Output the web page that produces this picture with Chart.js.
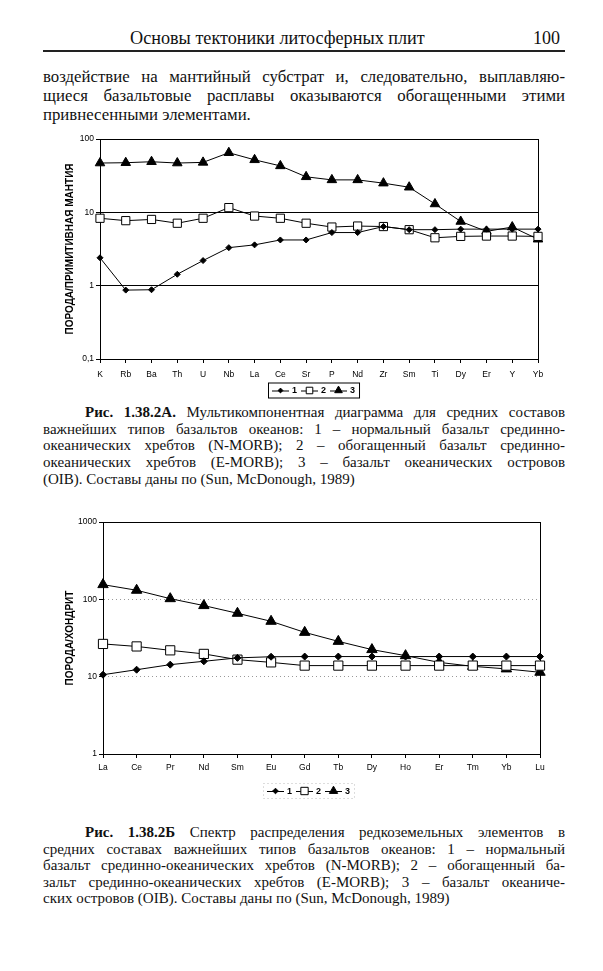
<!DOCTYPE html>
<html lang="ru">
<head>
<meta charset="utf-8">
<title>Основы тектоники литосферных плит</title>
<script src="https://cdn.jsdelivr.net/npm/chart.js@4/dist/chart.umd.min.js"></script>
<style>
  body { margin: 0; width: 603px; height: 971px; background: #fff; position: relative; overflow: hidden;
         font-family: "Liberation Serif", "Times New Roman", serif; color: #111; }
  .abs { position: absolute; }
  .line { white-space: nowrap; }
  .just { text-align: justify; text-align-last: justify; white-space: normal; }
  canvas { position: absolute; }
</style>
</head>
<body>
<div class="abs" style="left:130px;top:28px;font-size:18.2px;">Основы тектоники литосферных плит</div>
<div class="abs" style="left:533px;top:28px;font-size:18px;">100</div>
<div class="abs" style="left:43px;top:50px;width:522px;height:1.5px;background:#222;"></div>

<div class="abs" style="left:43px;top:67px;width:522px;font-size:16.8px;line-height:19px;">
  <div class="just">воздействие на мантийный субстрат и, следовательно, выплавляю-</div>
  <div class="just">щиеся базальтовые расплавы оказываются обогащенными этими</div>
  <div class="line">привнесенными элементами.</div>
</div>

<canvas id="chartA" width="530" height="272" style="left:40px;top:130px;"></canvas>

<div class="abs" style="left:43px;top:404px;width:522px;font-size:15px;line-height:16.7px;">
  <div class="just" style="padding-left:42px;"><b>Рис. 1.38.2А.</b> Мультикомпонентная диаграмма для средних составов</div>
  <div class="just">важнейших типов базальтов океанов: 1 – нормальный базальт срединно-</div>
  <div class="just">океанических хребтов (N-MORB); 2 – обогащенный базальт срединно-</div>
  <div class="just">океанических хребтов (E-MORB); 3 – базальт океанических островов</div>
  <div class="line">(OIB). Составы даны по (Sun, McDonough, 1989)</div>
</div>

<canvas id="chartB" width="530" height="292" style="left:40px;top:508px;"></canvas>

<div class="abs" style="left:43px;top:824px;width:522px;font-size:15px;line-height:16.6px;">
  <div class="just" style="padding-left:42px;"><b>Рис. 1.38.2Б</b> Спектр распределения редкоземельных элементов в</div>
  <div class="just">средних составах важнейших типов базальтов океанов: 1 – нормальный</div>
  <div class="just">базальт срединно-океанических хребтов (N-MORB); 2 – обогащенный ба-</div>
  <div class="just">зальт срединно-океанических хребтов (E-MORB); 3 – базальт океаниче-</div>
  <div class="line">ских островов (OIB). Составы даны по (Sun, McDonough, 1989)</div>
</div>

<script>
// Рис. 1.38.2А — нормировано на примитивную мантию
const elementsA = ['K', 'Rb', 'Ba', 'Th', 'U', 'Nb', 'La', 'Ce', 'Sr', 'P', 'Nd', 'Zr', 'Sm', 'Ti', 'Dy', 'Er', 'Y', 'Yb'];
const nmorbA = [2.4, 0.87, 0.88, 1.43, 2.2, 3.3, 3.6, 4.2, 4.2, 5.3, 5.3, 6.4, 5.8, 5.8, 5.9, 5.9, 5.9, 5.9];
const emorbA = [8.3, 7.7, 8.0, 7.1, 8.3, 11.6, 8.9, 8.3, 7.1, 6.3, 6.5, 6.4, 5.8, 4.5, 4.7, 4.75, 4.75, 4.7];
const oibA = [47, 47.5, 49, 47, 48, 65, 52, 43, 30.5, 27.7, 27.7, 25, 22, 13, 7.5, 5.5, 6.3, 4.3];
const yTicksA = [0.1, 1, 10, 100];

// Рис. 1.38.2Б — нормировано на хондрит
const elementsB = ['La', 'Ce', 'Pr', 'Nd', 'Sm', 'Eu', 'Gd', 'Tb', 'Dy', 'Ho', 'Er', 'Tm', 'Yb', 'Lu'];
const nmorbB = [10.6, 12.3, 14.3, 15.8, 17.5, 18.1, 18.2, 18.2, 18.2, 18.2, 18.2, 18.2, 18.2, 18.2];
const emorbB = [26.5, 24.6, 21.9, 19.7, 16.6, 15.3, 13.9, 13.9, 13.9, 13.9, 13.9, 13.9, 13.9, 13.9];
const oibB = [155, 131, 102, 83, 66, 52, 37.4, 28.6, 22.4, 18.7, 15.3, 13.6, 12.6, 11.4];
const yTicksB = [1, 10, 100, 1000];

const seriesNames = ['1', '2', '3'];

const tickFont = { family: 'Liberation Sans, Arial, sans-serif', size: 8.5 };
const titleFont = { family: 'Liberation Sans, Arial, sans-serif', size: 10, weight: 'bold' };

// рамка вокруг области построения
const framePlugin = {
  id: 'frame',
  beforeDatasetsDraw(chart) {
    const { ctx, chartArea: a } = chart;
    ctx.save();
    ctx.strokeStyle = '#000';
    ctx.lineWidth = 1;
    ctx.strokeRect(Math.round(a.left) + 0.5, Math.round(a.top) + 0.5, Math.round(a.right - a.left), Math.round(a.bottom - a.top));
    ctx.restore();
  }
};

// легенда в стиле Excel: линия с маркером и номер серии
const lineLegend = {
  id: 'lineLegend',
  afterDraw(chart, args, o) {
    const { ctx } = chart;
    ctx.save();
    ctx.font = 'bold 9px Liberation Sans, Arial, sans-serif';
    ctx.textBaseline = 'middle';
    let x = o.x + 4;
    const y = o.y;
    chart.data.datasets.forEach(ds => {
      ctx.strokeStyle = '#000';
      ctx.lineWidth = 1;
      ctx.beginPath();
      ctx.moveTo(x, y + 0.5);
      ctx.lineTo(x + 17, y + 0.5);
      ctx.stroke();
      ctx.fillStyle = ds.pointBackgroundColor;
      ctx.strokeStyle = '#000';
      Chart.helpers.drawPoint(ctx, { pointStyle: ds.pointStyle, radius: ds.pointRadius * 0.8, borderWidth: 1, rotation: 0 }, x + 8.5, y);
      x += 20;
      ctx.fillStyle = '#000';
      ctx.fillText(ds.label, x, y + 0.5);
      x += ctx.measureText(ds.label).width + 4;
    });
    ctx.strokeStyle = o.boxColor;
    ctx.setLineDash(o.boxDash);
    ctx.strokeRect(o.x + 0.5, y - 7.5, x - o.x, 15);
    ctx.restore();
  }
};

function makeChart(id, labels, s1, s2, s3, yMin, yMax, yTicks, opts) {
  const mk = (i, data, style, r, fill) => ({
    label: seriesNames[i], data,
    borderColor: '#000', borderWidth: 1, tension: 0,
    pointStyle: style, pointRadius: r, pointHoverRadius: r,
    pointBackgroundColor: fill, pointBorderColor: '#000', pointBorderWidth: 1
  });
  return new Chart(document.getElementById(id), {
    type: 'line',
    data: {
      labels,
      datasets: [
        mk(0, s1, 'rectRot', opts.r1, '#000'),
        mk(1, s2, 'rect', opts.r2, '#fff'),
        mk(2, s3, 'triangle', opts.r3, '#000')
      ]
    },
    options: {
      responsive: false,
      animation: false,
      layout: { padding: { left: 22, right: opts.right, top: opts.top, bottom: 0 } },
      plugins: {
        legend: { display: false },
        tooltip: { enabled: false },
        lineLegend: { x: opts.legendX, y: opts.legendY, boxColor: opts.boxColor, boxDash: opts.boxDash }
      },
      scales: {
        x: {
          type: 'category',
          offset: false,
          grid: { drawOnChartArea: false, drawTicks: true, tickLength: 4, color: '#000' },
          border: { color: '#000' },
          ticks: { color: '#000', font: tickFont, padding: opts.xPad, autoSkip: false, maxRotation: 0 },
          afterFit: s => { s.height = opts.xHeight; }
        },
        y: {
          type: 'logarithmic',
          min: yMin, max: yMax,
          afterBuildTicks: s => { s.ticks = yTicks.map(v => ({ value: v })); },
          grid: { color: opts.gridColor, tickColor: '#000', tickLength: 4 },
          border: { color: '#000', dash: opts.gridDash },
          ticks: {
            color: '#000', font: tickFont, padding: 2,
            callback: v => String(v).replace('.', ',')
          },
          title: { display: true, text: opts.yTitle, color: '#000', font: titleFont, padding: { top: 2, bottom: 0 } },
          afterFit: s => { s.width = opts.yWidth; }
        }
      }
    },
    plugins: [framePlugin, lineLegend]
  });
}

makeChart('chartA', elementsA, nmorbA, emorbA, oibA, 0.1, 100, yTicksA, {
  r1: 3, r2: 5.8, r3: 5.5,
  right: 32, top: 9, yWidth: 38, xHeight: 43, xPad: 7,
  gridColor: '#000', gridDash: [],
  yTitle: 'ПОРОДА/ПРИМИТИВНАЯ МАНТИЯ',
  legendX: 228, legendY: 260.5, boxColor: '#000', boxDash: []
});

makeChart('chartB', elementsB, nmorbB, emorbB, oibB, 1, 1000, yTicksB, {
  r1: 3.5, r2: 6.5, r3: 6,
  right: 30, top: 14, yWidth: 41, xHeight: 46, xPad: 5,
  gridColor: '#999', gridDash: [1, 3],
  yTitle: 'ПОРОДА/ХОНДРИТ',
  legendX: 223, legendY: 283, boxColor: '#bbb', boxDash: [1, 3]
});
</script>
</body>
</html>
